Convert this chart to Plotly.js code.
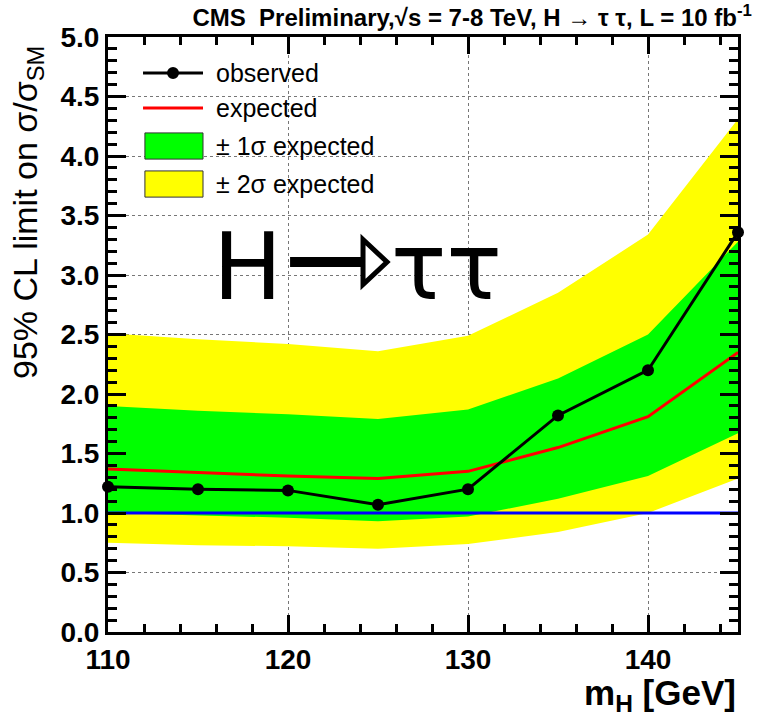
<!DOCTYPE html>
<html>
<head>
<meta charset="utf-8">
<script src="https://cdn.plot.ly/plotly-3.0.1.min.js"></script>
<style>
  html, body { margin: 0; padding: 0; background: #ffffff; }
  #chart { width: 758px; height: 717px; }
</style>
</head>
<body>
<div id="chart"></div>
<script>
// Higgs mass hypotheses (GeV)
const massPoints = [110, 115, 120, 125, 130, 135, 140, 145];

// 95% CL upper limits on sigma/sigma_SM
const observedLimit = [1.22, 1.20, 1.19, 1.07, 1.20, 1.82, 2.20, 3.36];
const expectedLimit = [1.37, 1.34, 1.31, 1.29, 1.35, 1.55, 1.81, 2.35];

// expected-limit bands
const expMinus1Sigma = [1.00, 0.98, 0.96, 0.93, 0.97, 1.12, 1.31, 1.67];
const expPlus1Sigma  = [1.90, 1.86, 1.83, 1.79, 1.87, 2.13, 2.50, 3.28];
const expMinus2Sigma = [0.75, 0.73, 0.72, 0.70, 0.74, 0.84, 1.00, 1.29];
const expPlus2Sigma  = [2.51, 2.46, 2.42, 2.36, 2.49, 2.85, 3.34, 4.31];

// SM reference line
const smLineMass = [110, 145];
const smLineValue = [1, 1];

// legend entries
const legendLabels = ['observed', 'expected', '± 1σ expected', '± 2σ expected'];

const YELLOW = '#ffff00';
const GREEN = '#00ff00';
const RED = '#ff0000';
const BLUE = '#0000ff';

const textFont = 'Liberation Sans, Arial, Helvetica, sans-serif';

const traces = [
  { x: massPoints, y: expMinus2Sigma, mode: 'lines', line: { width: 0 }, hoverinfo: 'skip', showlegend: false },
  { x: massPoints, y: expPlus2Sigma, mode: 'lines', line: { width: 0 }, fill: 'tonexty', fillcolor: YELLOW, hoverinfo: 'skip', showlegend: false },
  { x: massPoints, y: expMinus1Sigma, mode: 'lines', line: { width: 0 }, hoverinfo: 'skip', showlegend: false },
  { x: massPoints, y: expPlus1Sigma, mode: 'lines', line: { width: 0 }, fill: 'tonexty', fillcolor: GREEN, hoverinfo: 'skip', showlegend: false },
  { x: smLineMass, y: smLineValue, mode: 'lines', line: { color: BLUE, width: 3 }, showlegend: false },
  { x: massPoints, y: expectedLimit, mode: 'lines', line: { color: RED, width: 3 }, showlegend: false },
  { x: massPoints, y: observedLimit, mode: 'lines+markers', line: { color: '#000000', width: 3 },
    marker: { color: '#000000', size: 12 }, cliponaxis: false, showlegend: false }
];

// legend geometry in paper fractions
const legX0 = 0.0556, legX1 = 0.1508, legTextX = 0.169;
const legRows = [0.9395, 0.8807, 0.8168, 0.7529];

// "H -> tau tau" label: open-headed arrow between the two words (paper fractions)
const arrowY = 0.6218;
const arrowX0 = 0.289, arrowX1 = 0.4048, arrowTip = 0.4429, arrowHalf = 0.0378;
const labelY = 0.612;

const shapes = [
  { type: 'line', xref: 'paper', yref: 'paper', x0: legX0, x1: legX1, y0: legRows[0], y1: legRows[0], line: { color: '#000', width: 3 } },
  { type: 'circle', xref: 'paper', yref: 'paper', xsizemode: 'pixel', ysizemode: 'pixel',
    xanchor: (legX0 + legX1) / 2, yanchor: legRows[0], x0: -6, x1: 6, y0: -6, y1: 6, fillcolor: '#000', line: { width: 0 } },
  { type: 'line', xref: 'paper', yref: 'paper', x0: legX0, x1: legX1, y0: legRows[1], y1: legRows[1], line: { color: RED, width: 3 } },
  { type: 'rect', xref: 'paper', yref: 'paper', x0: legX0 + 0.003, x1: legX1, y0: legRows[2] - 0.022, y1: legRows[2] + 0.022,
    fillcolor: GREEN, line: { color: '#333', width: 1 } },
  { type: 'rect', xref: 'paper', yref: 'paper', x0: legX0 + 0.003, x1: legX1, y0: legRows[3] - 0.022, y1: legRows[3] + 0.022,
    fillcolor: YELLOW, line: { color: '#333', width: 1 } },
  { type: 'line', xref: 'paper', yref: 'paper', x0: arrowX0, x1: arrowX1, y0: arrowY, y1: arrowY,
    line: { color: '#000', width: 10 } },
  { type: 'path', xref: 'paper', yref: 'paper',
    path: `M ${arrowX1},${arrowY + arrowHalf} L ${arrowTip},${arrowY} L ${arrowX1},${arrowY - arrowHalf} Z`,
    fillcolor: '#fff', line: { color: '#000', width: 5 } }
];

const annotations = legendLabels.map((t, i) => ({
  text: t, xref: 'paper', yref: 'paper', x: legTextX, y: legRows[i], xanchor: 'left', yanchor: 'middle',
  showarrow: false, font: { family: textFont, size: 25, color: '#000' }
}));

annotations.push(
  { text: 'H', xref: 'paper', yref: 'paper', x: 0.222, y: labelY, xanchor: 'center', yanchor: 'middle',
    showarrow: false, font: { family: 'DejaVu Sans, sans-serif', size: 92, color: '#000', weight: 'normal' } },
  { text: 'ττ', xref: 'paper', yref: 'paper', x: 0.538, y: labelY, xanchor: 'center', yanchor: 'middle',
    showarrow: false, font: { family: 'DejaVu Sans, sans-serif', size: 92, color: '#000', weight: 'normal' } },
  { text: '95% CL limit on σ/σ<sub>SM</sub>', xref: 'paper', yref: 'paper', x: -0.128, y: 0.988,
    xanchor: 'center', yanchor: 'top', textangle: -90, showarrow: false,
    font: { family: textFont, size: 34, color: '#000' } },
  { text: 'm<sub>H</sub> [GeV]', xref: 'paper', yref: 'paper', x: 1.0, y: -0.106,
    xanchor: 'right', yanchor: 'middle', showarrow: false,
    font: { family: textFont, size: 35, color: '#000', weight: 'bold' } }
);

const axisCommon = {
  showline: true, linecolor: '#000', linewidth: 3, mirror: 'allticks',
  ticks: 'inside', tickcolor: '#000', tickwidth: 3,
  showgrid: true, gridcolor: '#777', griddash: 'dot', gridwidth: 1,
  zeroline: false, fixedrange: true,
  tickfont: { family: textFont, size: 28, color: '#000', weight: 'bold' }
};

const layout = {
  width: 758, height: 717,
  margin: { l: 108, r: 20, t: 37, b: 85 },
  paper_bgcolor: '#fff', plot_bgcolor: '#fff',
  showlegend: false,
  title: {
    text: '<b>CMS  Preliminary,√s = 7-8 TeV, H → τ τ, L = 10 fb<sup>-1</sup></b>',
    xref: 'container', x: 0.992, xanchor: 'right', yref: 'container', y: 0.976, yanchor: 'middle',
    font: { family: textFont, size: 24, color: '#000' }
  },
  xaxis: Object.assign({}, axisCommon, {
    range: [110, 145], dtick: 10, tick0: 110, ticklen: 17,
    minor: { ticks: 'inside', ticklen: 8, tickwidth: 3, tickcolor: '#000', dtick: 2, tick0: 110, showgrid: false }
  }),
  yaxis: Object.assign({}, axisCommon, {
    range: [0, 5], dtick: 0.5, tick0: 0, ticklen: 18, tickformat: '.1f',
    minor: { ticks: 'inside', ticklen: 9, tickwidth: 3, tickcolor: '#000', dtick: 0.1, showgrid: false }
  }),
  shapes: shapes,
  annotations: annotations
};

Plotly.newPlot('chart', traces, layout, { displayModeBar: false, staticPlot: true });
</script>
</body>
</html>
